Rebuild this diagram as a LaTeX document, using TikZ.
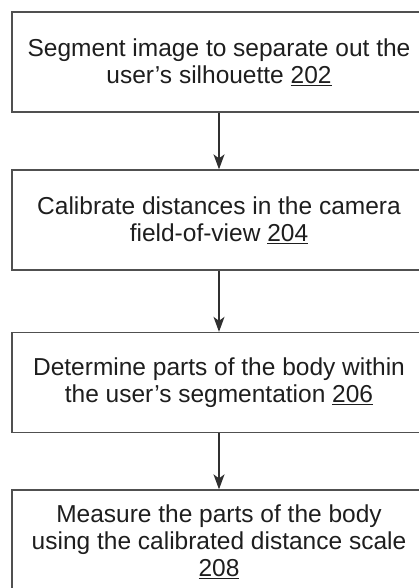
\documentclass[tikz,border=0pt]{standalone}
\usepackage{fontspec}
\setmainfont{Liberation Sans}
\usetikzlibrary{arrows.meta}
\definecolor{boxgray}{HTML}{505050}
\definecolor{textgray}{HTML}{1E1E1E}
\definecolor{arrgray}{HTML}{303030}
\begin{document}
\begin{tikzpicture}[x=1pt,y=-1pt,
  box/.style={draw=boxgray, line width=1.3pt, minimum width=414pt, minimum height=100pt,
    align=center, font=\fontsize{24.5}{27}\selectfont, text=textgray, inner sep=0pt},
  arr/.style={draw=arrgray, line width=1.4pt, -{Stealth[length=15pt,width=11pt,inset=4pt]}}]
\useasboundingbox (0,0) rectangle (419,588);
\clip (0,0) rectangle (419,588);
\node[box] (b1) at (219,62) {Segment image to separate out the\\user’s silhouette \underline{202}};
\node[box] (b2) at (219,220) {Calibrate distances in the camera\\field-of-view \underline{204}};
\node[box] (b3) at (219,382.5) {Determine parts of the body within\\the user’s segmentation \underline{206}};
\node[box, minimum height=104pt] (b4) at (219,542) {Measure the parts of the body\\using the calibrated distance scale\\\underline{208}};
\draw[arr] (b1) -- (b2);
\draw[arr] (b2) -- (b3);
\draw[arr] (b3) -- (b4);
\end{tikzpicture}
\end{document}
